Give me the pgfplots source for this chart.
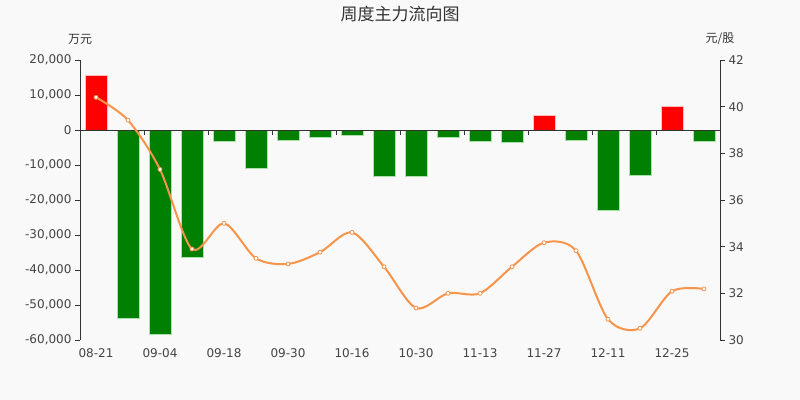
\documentclass[border=0pt]{standalone}
\usepackage{fontspec}
\setmainfont{DejaVu Sans}
\newfontfamily\cjk{Noto Sans CJK SC}
\usepackage{pgfplots}
\pgfplotsset{compat=1.18}
\definecolor{bg}{HTML}{F9F9F9}
\definecolor{axiscol}{HTML}{333333}
\definecolor{txt}{HTML}{444444}
\definecolor{upred}{HTML}{FF0000}
\definecolor{downgreen}{HTML}{008000}
\definecolor{priceline}{HTML}{F7944A}
\begin{document}
\begin{tikzpicture}
\fill[bg] (0,0) rectangle (800bp,400bp);
\node[text=axiscol, font=\cjk\fontsize{17bp}{20bp}\selectfont] at (400bp,386bp) {周度主力流向图};
\node[text=axiscol, font=\cjk\fontsize{12bp}{14bp}\selectfont] at (80bp,361bp) {万元};
\node[text=axiscol, font=\cjk\fontsize{12bp}{14bp}\selectfont] at (720bp,361bp) {元/股};
\pgfplotsset{
  common/.style={
    at={(80bp,60bp)}, anchor=south west,
    scale only axis, width=640bp, height=280bp,
    xmin=-0.5, xmax=19.5,
    axis x line=none,
    axis line style={axiscol, line width=0.8bp},
    tick style={axiscol, line width=0.8bp},
    major tick length=5bp,
    tick align=outside,
    ticklabel style={text=txt, font=\fontsize{12bp}{14bp}\selectfont},
    /pgf/number format/assume math mode=true,
  },
}
\begin{axis}[common,
    axis y line*=left,
    ymin=-60000, ymax=20000,
    ytick={-60000,-50000,...,20000},
    scaled y ticks=false,
    yticklabel style={/pgf/number format/.cd, fixed, 1000 sep={,}},
    ybar, bar width=22bp,
]
\addplot[ybar, bar shift=0pt, fill=upred, draw={rgb,255:red,255;green,190;blue,190}, line width=0.6bp]
  coordinates {(0,15600) (14,4200) (18,6850)};
\addplot[ybar, bar shift=0pt, fill=downgreen, draw={rgb,255:red,170;green,225;blue,170}, line width=0.6bp]
  coordinates {(1,-53800) (2,-58300) (3,-36500) (4,-3200) (5,-10800) (6,-3000)
               (7,-2200) (8,-1400) (9,-13300) (10,-13300) (11,-2000) (12,-3200)
               (13,-3500) (15,-2950) (16,-23000) (17,-13050) (19,-3150)};
% x axis line at zero with category ticks
\draw[axiscol, line width=0.8bp] (axis cs:-0.5,0) -- (axis cs:19.5,0);
\pgfplotsinvokeforeach{1.5,3.5,5.5,7.5,9.5,11.5,13.5,15.5,17.5}{
  \draw[axiscol, line width=0.8bp] (axis cs:#1,0) -- ++(0pt,-5bp);
}
\end{axis}
\begin{axis}[common,
    axis y line*=right,
    ymin=30, ymax=42,
    ytick={30,32,...,42},
]
\addplot[priceline, line width=2bp, smooth, tension=0.5,
    mark=*, mark size=2bp, mark options={fill=white, draw=priceline, line width=0.8bp}]
  coordinates {(0,40.40) (1,39.42) (2,37.31) (3,33.90) (4,35.00) (5,33.50)
               (6,33.26) (7,33.76) (8,34.61) (9,33.14) (10,31.37) (11,32.00)
               (12,32.00) (13,33.14) (14,34.17) (15,33.83) (16,30.89) (17,30.50)
               (18,32.09) (19,32.19)};
\end{axis}
% date labels under the plot area
\foreach \i/\d in {0/08-21,2/09-04,4/09-18,6/09-30,8/10-16,10/10-30,12/11-13,14/11-27,16/12-11,18/12-25}{
  \node[text=txt, font=\fontsize{12bp}{14bp}\selectfont] at ({96bp+32bp*\i},47bp) {\d};
}
\end{tikzpicture}
\end{document}
